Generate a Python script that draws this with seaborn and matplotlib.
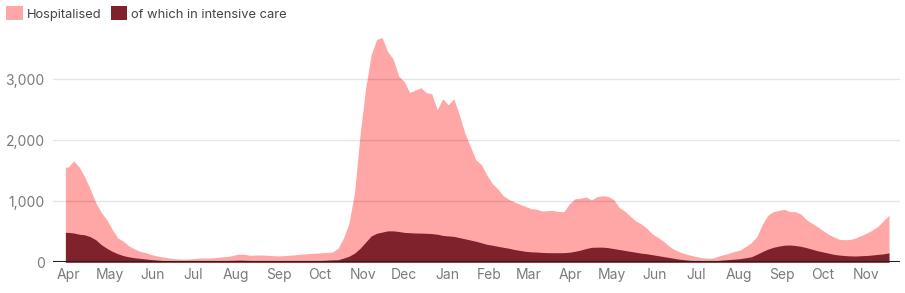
import matplotlib
matplotlib.use("Agg")
import matplotlib.pyplot as plt
import matplotlib.dates as mdates
from matplotlib.patches import Patch
from matplotlib.ticker import FuncFormatter
import pandas as pd
import seaborn as sns

# ---- data (values read every 4 days, first reading centred on 2020-04-01) ----
first_day = "2020-03-30"
last_day = "2021-11-18"
first_reading = "2020-04-01"
step_days = 4

hospitalised = [
    1560, 1660, 1560, 1400, 1200, 980, 820, 700, 540, 400,
    345, 270, 220, 180, 160, 130, 105, 90, 75, 62,
    55, 52, 55, 62, 70, 70, 72, 80, 90, 95,
    115, 135, 130, 115, 118, 120, 115, 110, 105, 108,
    115, 120, 132, 138, 145, 150, 155, 160, 170, 230,
    400, 650, 1150, 2100, 2850, 3400, 3650, 3680, 3450, 3330,
    3050, 2960, 2780, 2820, 2860, 2780, 2760, 2500, 2680, 2580,
    2680, 2420, 2120, 1900, 1680, 1600, 1430, 1290, 1200, 1090,
    1030, 990, 950, 915, 880, 870, 840, 845, 850, 830,
    830, 960, 1040, 1050, 1070, 1020, 1075, 1090, 1080, 1030,
    900, 840, 760, 680, 630, 560, 470, 410, 350, 270,
    210, 170, 140, 115, 95, 75, 68, 68, 100, 125,
    150, 180, 200, 260, 320, 420, 620, 770, 830, 850,
    870, 830, 830, 790, 700, 640, 585, 520, 460, 415,
    375, 370, 375, 400, 440, 480, 530, 590, 680, 770,
]

intensive_care = [
    490, 480, 460, 450, 420, 370, 290, 230, 180, 140,
    110, 90, 75, 65, 55, 45, 38, 30, 25, 22,
    20, 20, 20, 20, 20, 20, 20, 22, 25, 30,
    32, 35, 32, 30, 28, 26, 25, 25, 25, 25,
    25, 26, 27, 28, 28, 30, 30, 35, 40, 42,
    70, 100, 150, 230, 330, 430, 475, 495, 515, 515,
    505, 490, 485, 480, 478, 475, 470, 460, 440, 432,
    425, 405, 385, 365, 345, 320, 295, 280, 262, 246,
    230, 210, 195, 180, 172, 168, 162, 158, 157, 157,
    158, 165, 180, 200, 225, 245, 248, 248, 240, 225,
    210, 195, 180, 165, 150, 140, 125, 110, 95, 80,
    65, 50, 40, 32, 28, 25, 24, 25, 30, 38,
    45, 52, 60, 75, 90, 130, 175, 215, 245, 265,
    280, 283, 275, 262, 240, 215, 190, 170, 150, 130,
    118, 110, 105, 103, 108, 112, 120, 130, 138, 155,
]

series_labels = ["Hospitalised", "of which in intensive care"]
y_ticks = [0, 1000, 2000, 3000]

# ---- build frame ----
dates = pd.date_range(first_reading, periods=len(hospitalised), freq=f"{step_days}D")
df = pd.DataFrame({"date": dates, "hosp": hospitalised, "icu": intensive_care})
head = pd.DataFrame({"date": [pd.Timestamp(first_day)],
                     "hosp": [hospitalised[0]], "icu": [intensive_care[0]]})
tail = pd.DataFrame({"date": [pd.Timestamp(last_day)],
                     "hosp": [hospitalised[-1]], "icu": [intensive_care[-1]]})
ext = pd.concat([head, df, tail], ignore_index=True)

sns.set_theme(style="white")
plt.rcParams["font.family"] = ["Inter", "DejaVu Sans"]

pink = "#ffa6a6"
dark = "#7f222b"

fig = plt.figure(figsize=(9.05, 2.93), dpi=100)
ax = fig.add_axes([53 / 905, 30.7 / 293, 847 / 905, 232 / 293])

ax.fill_between(ext["date"], ext["hosp"], color=pink, lw=0, zorder=2)
ax.fill_between(ext["date"], ext["icu"], color=dark, lw=0, zorder=3)

ax.set_ylim(0, 3800)
ax.set_xlim(pd.Timestamp("2020-03-21"), pd.Timestamp("2021-11-26"))

ax.set_yticks(y_ticks)
ax.yaxis.set_major_formatter(FuncFormatter(lambda v, p: f"{int(v):,}"))
for v in y_ticks[1:]:
    ax.axhline(v, color="black", alpha=0.1, lw=1, zorder=4)
ax.axhline(0, color="#222222", lw=1.5, zorder=5)

ax.xaxis.set_major_locator(mdates.MonthLocator())
ax.xaxis.set_major_formatter(mdates.DateFormatter("%b"))

ax.tick_params(axis="both", length=0, labelsize=10, labelcolor="#7a7a7a")
ax.tick_params(axis="y", pad=6)
ax.tick_params(axis="x", pad=4)
for s in ax.spines.values():
    s.set_visible(False)
ax.set_xlabel("")
ax.set_ylabel("")

handles = [Patch(color=pink, lw=0), Patch(color=dark, lw=0)]
fig.legend(handles, series_labels, loc="upper left", bbox_to_anchor=(0.0, 1.0),
           ncol=2, frameon=False, fontsize=9.3, handlelength=1.25, handleheight=1.25,
           handletextpad=0.35, columnspacing=0.7, borderaxespad=0.1,
           labelcolor="#444444")

fig.savefig("out.png", dpi=100)
